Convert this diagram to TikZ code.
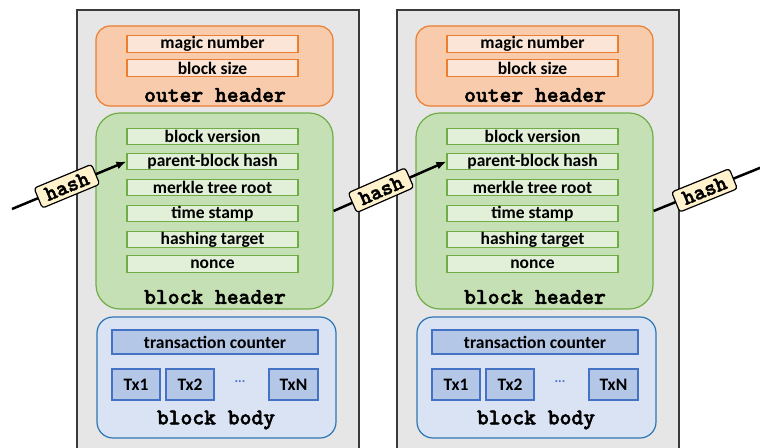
\documentclass[tikz,border=0pt]{standalone}
\usepackage{fontspec}
\setmainfont{Carlito}
\newfontfamily\codefont[FakeBold=2]{lmmonolt10-bold.otf}
\usetikzlibrary{arrows.meta}
\definecolor{grayfill}{HTML}{E6E6E6}
\definecolor{grayline}{HTML}{3A3A3A}
\definecolor{orfill}{HTML}{F8CBAD}
\definecolor{orline}{HTML}{ED7D31}
\definecolor{orfield}{HTML}{FBE5D6}
\definecolor{grfill}{HTML}{C5E0B4}
\definecolor{grline}{HTML}{70AD47}
\definecolor{grfield}{HTML}{E2F0D9}
\definecolor{blfill}{HTML}{DAE3F3}
\definecolor{blline}{HTML}{2E75B6}
\definecolor{blfield}{HTML}{B4C7E7}
\definecolor{blfline}{HTML}{4472C4}
\definecolor{tagfill}{HTML}{FFF2CC}
\begin{document}
\begin{tikzpicture}[
	x=1pt, y=-1pt,
	font=\fontsize{17.5}{17.5}\selectfont\bfseries,
	block/.style={draw=grayline, line width=1.5pt, fill=grayfill},
	outerbox/.style={draw=orline, line width=1.2pt, fill=orfill, rounded corners=14pt,
		minimum width=237, minimum height=80},
	headbox/.style={draw=grline, line width=1.2pt, fill=grfill, rounded corners=24pt,
		minimum width=237, minimum height=196},
	bodybox/.style={draw=blline, line width=1.2pt, fill=blfill, rounded corners=16pt,
		minimum width=239, minimum height=121},
	ofield/.style={draw=orline, line width=1.2pt, fill=orfield, inner sep=0pt,
		minimum width=171, minimum height=16.5},
	gfield/.style={draw=grline, line width=1.2pt, fill=grfield, inner sep=0pt,
		minimum width=171, minimum height=16.5},
	bfield/.style={draw=blfline, line width=1.2pt, fill=blfield, inner sep=0pt},
	title/.style={font=\codefont\fontsize{22.5}{22.5}\selectfont},
	hashtag/.style={draw, line width=1.2pt, fill=tagfill, rounded corners=3pt,
		font=\codefont\fontsize{22}{22}\selectfont, sloped,
		inner xsep=8pt, inner ysep=4pt},
	hasharrow/.style={line width=2.5pt, -{Latex[length=10pt,width=8pt]}},
	]
\useasboundingbox (0,0) rectangle (760,447);
\clip (0,0) rectangle (760,447);
\foreach \b/\dx in {1/0,2/320} {
	\begin{scope}[xshift=\dx]
		% block frame
		\draw [block] (77,10) rectangle (359,470);
		% outer header
		\node [outerbox] (oh\b) at (214.5,66) {};
		\node [ofield] (mn\b) at (212.5,44) {magic number};
		\node [ofield] (bs\b) at (212.5,68) {block size};
		\node [title] (ot\b) at (215,95) {outer header};
		% block header
		\node [headbox] (gh\b) at (214.5,211) {};
		\node [gfield] (bv\b) at (212.5,136.5) {block version};
		\node [gfield] (ph\b) at (212.5,161.5) {parent-block hash};
		\node [gfield] (mr\b) at (212.5,187.5) {merkle tree root};
		\node [gfield] (ts\b) at (212.5,213.5) {time stamp};
		\node [gfield] (ht\b) at (212.5,239.5) {hashing target};
		\node [gfield] (nc\b) at (212.5,264) {nonce};
		\node [title] (gt\b) at (215,297) {block header};
		% block body
		\node [bodybox] (bb\b) at (216.5,377.5) {};
		\node [bfield, minimum width=206, minimum height=24] (tc\b) at (215,342) {transaction counter};
		\node [bfield, minimum width=48, minimum height=31] (txa\b) at (136,384.5) {Tx1};
		\node [bfield, minimum width=48, minimum height=31] (txb\b) at (190,384.5) {Tx2};
		\node [text=blfline, font=\fontsize{14}{14}\selectfont] (dots\b) at (240,383) {···};
		\node [bfield, minimum width=49, minimum height=31] (txn\b) at (293.5,384.5) {TxN};
		\node [title] (bt\b) at (216,420) {block body};
	\end{scope}
}
% hash links
\coordinate (in1) at (12,209);
\coordinate (out2) at (772,163);
\draw [hasharrow] (in1) -- (ph1.west) node [hashtag, pos=0.48] (hs1) {hash};
\draw [hasharrow] (gh1.east) -- (ph2.west) node [hashtag, pos=0.42] (hs2) {hash};
\draw [hasharrow] (gh2.east) -- (out2) node [hashtag, pos=0.43] (hs3) {hash};
\end{tikzpicture}
\end{document}
